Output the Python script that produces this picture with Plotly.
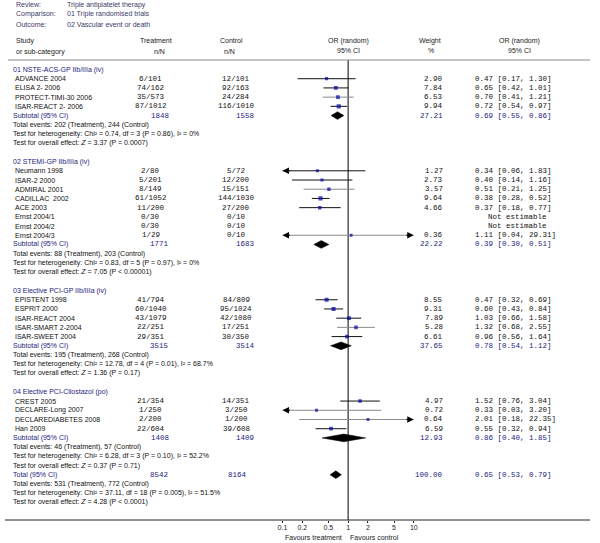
import math
import plotly.graph_objects as go

# ---------------- DATA ----------------
review_labels = ["Review:", "Comparison:", "Outcome:"]
review_values = ["Triple antiplatelet therapy", "01 Triple randomised trials", "02 Vascular event or death"]

group_titles = [
    "01 NSTE-ACS-GP IIb/IIIa (iv)",
    "02 STEMI-GP IIb/IIIa (iv)",
    "03 Elective PCI-GP IIb/IIIa (iv)",
    "04 Elective PCI-Cilostazol (po)",
]

study_names = [
    ["ADVANCE 2004", "ELISA 2- 2006", "PROTECT-TIMI-30 2006", "ISAR-REACT 2- 2006"],
    ["Neumann 1998", "ISAR-2 2000", "ADMIRAL 2001", "CADILLAC  2002", "ACE 2003",
     "Ernst 2004/1", "Ernst 2004/2", "Ernst 2004/3"],
    ["EPISTENT 1998", "ESPRIT 2000", "ISAR-REACT 2004", "ISAR-SMART 2-2004", "ISAR-SWEET 2004"],
    ["CREST 2005", "DECLARE-Long 2007", "DECLAREDIABETES 2008", "Han 2009"],
]
treatment_nN = [
    ["6/101", "74/162", "35/573", "87/1012"],
    ["2/80", "5/201", "8/149", "61/1052", "11/200", "0/30", "0/30", "1/29"],
    ["41/794", "60/1040", "43/1079", "22/251", "29/351"],
    ["21/354", "1/250", "2/200", "22/604"],
]
control_nN = [
    ["12/101", "92/163", "24/284", "116/1010"],
    ["5/72", "12/200", "15/151", "144/1030", "27/200", "0/10", "0/10", "0/10"],
    ["84/809", "95/1024", "42/1080", "17/251", "30/350"],
    ["14/351", "3/250", "1/200", "39/608"],
]
weight_pct = [
    [2.90, 7.84, 6.53, 9.94],
    [1.27, 2.73, 3.57, 9.64, 4.66, None, None, 0.36],
    [8.55, 9.31, 7.89, 5.28, 6.61],
    [4.97, 0.72, 0.64, 6.59],
]
or_est = [
    [0.47, 0.65, 0.70, 0.72],
    [0.34, 0.40, 0.51, 0.38, 0.37, None, None, 1.11],
    [0.47, 0.60, 1.03, 1.32, 0.96],
    [1.52, 0.33, 2.01, 0.55],
]
or_low = [
    [0.17, 0.42, 0.41, 0.54],
    [0.06, 0.14, 0.21, 0.28, 0.18, None, None, 0.04],
    [0.32, 0.43, 0.66, 0.68, 0.56],
    [0.76, 0.03, 0.18, 0.32],
]
or_high = [
    [1.30, 1.01, 1.21, 0.97],
    [1.83, 1.16, 1.25, 0.52, 0.77, None, None, 29.31],
    [0.69, 0.84, 1.58, 2.55, 1.64],
    [3.04, 3.20, 22.35, 0.94],
]

sub_treat_N = [1848, 1771, 3515, 1408]
sub_ctrl_N = [1558, 1683, 3514, 1409]
sub_weight = [27.21, 22.22, 37.65, 12.93]
sub_or = [0.69, 0.39, 0.78, 0.86]
sub_low = [0.55, 0.30, 0.54, 0.40]
sub_high = [0.86, 0.51, 1.12, 1.85]
sub_events_treat = [202, 88, 195, 46]
sub_events_ctrl = [244, 203, 268, 57]
sub_chi2 = ["0.74", "0.83", "12.78", "6.28"]
sub_df = [3, 5, 4, 3]
sub_het_p = ["P = 0.86", "P = 0.97", "P = 0.01", "P = 0.10"]
sub_i2 = ["0%", "0%", "68.7%", "52.2%"]
sub_z = ["3.37", "7.05", "1.36", "0.37"]
sub_z_p = ["P = 0.0007", "P &lt; 0.00001", "P = 0.17", "P = 0.71"]

total_treat_N = 8542
total_ctrl_N = 8164
total_weight = 100.00
total_or = 0.65
total_low = 0.53
total_high = 0.79
total_events_treat = 531
total_events_ctrl = 772
total_chi2 = "37.11"
total_df = 18
total_het_p = "P = 0.005"
total_i2 = "51.5%"
total_z = "4.28"
total_z_p = "P &lt; 0.0001"

tick_values = [0.1, 0.2, 0.5, 1, 2, 5, 10]
tick_labels = ["0.1", "0.2", "0.5", "1", "2", "5", "10"]

# ---------------- STYLE ----------------
W, H = 600, 543
SANS = "Liberation Sans, Arial, sans-serif"
MONO = "Liberation Mono, Courier New, monospace"
FS = 7.0
FM = 7.5
NAVY = "#1c1c80"
HEAD = "#3a3a6a"
TXT = "#111111"
GRAY_CI = {"PROTECT-TIMI-30 2006", "ADMIRAL 2001", "Ernst 2004/3",
           "ISAR-SMART 2-2004", "DECLARE-Long 2007", "DECLAREDIABETES 2008"}

ROW0_PX = 69.5
ROW_H = 9.21
AXIS_PX = 520.0
XMIN, XMAX = 0.1, 10.0
X_LEFT_PX, X_RIGHT_PX = 281.7, 415.0

def px(x):
    return x / W

annotations = []

def ann(xp, y, text, anchor="left", font=SANS, size=FS, color=TXT, yref="y"):
    annotations.append(dict(
        x=px(xp), y=y, xref="paper", yref=yref, text=text, showarrow=False,
        xanchor=anchor, yanchor="middle",
        font=dict(family=font, size=size, color=color)))

def paper_y(pix):
    return 1 - pix / H

# header
for i, (lab, val) in enumerate(zip(review_labels, review_values)):
    ann(9, paper_y(4.7 + 9.7 * i), lab, color=HEAD, yref="paper")
    ann(61, paper_y(4.7 + 9.7 * i), val, color=HEAD, yref="paper")
ann(9, paper_y(40.7), "Study", color="#222", yref="paper")
ann(9, paper_y(51.5), "or sub-category", color="#222", yref="paper")
ann(153, paper_y(40.7), "Treatment", "center", color="#222", yref="paper")
ann(157, paper_y(51.5), "n/N", "center", color="#222", yref="paper")
ann(230, paper_y(40.7), "Control", "center", color="#222", yref="paper")
ann(228, paper_y(51.5), "n/N", "center", color="#222", yref="paper")
ann(348.5, paper_y(40.7), "OR (random)", "center", color="#222", yref="paper")
ann(348.5, paper_y(50.5), "95% CI", "center", color="#222", yref="paper")
ann(431.7, paper_y(40.7), "Weight", "center", color="#222", yref="paper")
ann(432, paper_y(50.5), "%", "center", color="#222", yref="paper")
ann(522, paper_y(40.7), "OR (random)", "center", color="#222", yref="paper")
ann(522, paper_y(50.5), "95% CI", "center", color="#222", yref="paper")

ci_black_x, ci_black_y = [], []
ci_gray_x, ci_gray_y = [], []
sq_x, sq_y, sq_size = [], [], []
diamonds = []
arrows = []

def or_text(e, l, h):
    return f"{e:.2f} [{l:.2f}, {h:.2f}]"

def summary_lines(r, ev_t, ev_c, chi2, df, hp, i2, z, zp):
    ann(6, r, f"Total events: {ev_t} (Treatment), {ev_c} (Control)")
    ann(6, r + 1, f"Test for heterogeneity: Chi² = {chi2}, df = {df} ({hp}), I² = {i2}")
    ann(6, r + 2, f"Test for overall effect: <i>Z</i> = {z} ({zp})")

r = 0
for g, title in enumerate(group_titles):
    ann(6, r, title, color=NAVY)
    for i, name in enumerate(study_names[g]):
        rr = r + 1 + i
        ann(8, rr, name)
        ann(148, rr, treatment_nN[g][i], "center", MONO, FM)
        ann(235, rr, control_nN[g][i], "center", MONO, FM)
        w = weight_pct[g][i]
        if w is None:
            ann(488, rr, "Not estimable", "left", MONO, FM)
            continue
        ann(447, rr, f"{w:.2f}", "right", MONO, FM)
        e, lo, hi = or_est[g][i], or_low[g][i], or_high[g][i]
        ann(475, rr, or_text(e, lo, hi), "left", MONO, FM)
        xs = [max(lo, XMIN), min(hi, XMAX), None]
        ys = [rr, rr, None]
        if name in GRAY_CI:
            ci_gray_x += xs; ci_gray_y += ys
        else:
            ci_black_x += xs; ci_black_y += ys
        if lo < XMIN:
            arrows.append((XMIN, rr, 9))
        if hi > XMAX:
            arrows.append((XMAX, rr, -9))
        sq_x.append(e); sq_y.append(rr); sq_size.append(2.8 + 0.14 * w)
    rs = r + len(study_names[g]) + 1
    ann(6, rs, "Subtotal (95% CI)", color=NAVY)
    ann(157, rs, str(sub_treat_N[g]), "center", MONO, FM, NAVY)
    ann(244, rs, str(sub_ctrl_N[g]), "center", MONO, FM, NAVY)
    ann(447, rs, f"{sub_weight[g]:.2f}", "right", MONO, FM, NAVY)
    ann(475, rs, or_text(sub_or[g], sub_low[g], sub_high[g]), "left", MONO, FM, NAVY)
    diamonds.append((sub_or[g], sub_low[g], sub_high[g], rs))
    summary_lines(rs + 1, sub_events_treat[g], sub_events_ctrl[g], sub_chi2[g], sub_df[g],
                  sub_het_p[g], sub_i2[g], sub_z[g], sub_z_p[g])
    r = rs + 5

rt = r - 1
ann(6, rt, "Total (95% CI)", color=NAVY)
ann(156, rt, str(total_treat_N), "center", MONO, FM, NAVY)
ann(236, rt, str(total_ctrl_N), "center", MONO, FM, NAVY)
ann(447, rt, f"{total_weight:.2f}", "right", MONO, FM, NAVY)
ann(475, rt, or_text(total_or, total_low, total_high), "left", MONO, FM, NAVY)
diamonds.append((total_or, total_low, total_high, rt))
summary_lines(rt + 1, total_events_treat, total_events_ctrl, total_chi2, total_df,
              total_het_p, total_i2, total_z, total_z_p)

ann(313, paper_y(537), "Favours treatment", "center", yref="paper", color="#222")
ann(375, paper_y(537), "Favours control", "center", yref="paper", color="#222")

for (xa, ya, ax) in arrows:
    annotations.append(dict(x=math.log10(xa), y=ya, xref="x", yref="y", text="",
                            showarrow=True, ax=ax, ay=0, arrowhead=2, arrowsize=1.3,
                            arrowwidth=1, arrowcolor="#000", standoff=0))

fig = go.Figure()

y_top_row = (60 - ROW0_PX) / ROW_H
y_axis_row = (AXIS_PX - ROW0_PX) / ROW_H
fig.add_trace(go.Scatter(x=[1, 1], y=[y_top_row, y_axis_row], mode="lines",
                         line=dict(color="#000", width=1), hoverinfo="skip"))
fig.add_trace(go.Scatter(x=ci_black_x, y=ci_black_y, mode="lines",
                         line=dict(color="#111", width=1), hoverinfo="skip"))
fig.add_trace(go.Scatter(x=ci_gray_x, y=ci_gray_y, mode="lines",
                         line=dict(color="#8a8a8a", width=1), hoverinfo="skip"))
fig.add_trace(go.Scatter(x=sq_x, y=sq_y, mode="markers",
                         marker=dict(symbol="square", size=sq_size, color="#0000a8",
                                     line=dict(width=0)), hoverinfo="skip"))
for (e, lo, hi, rr) in diamonds:
    fig.add_trace(go.Scatter(x=[lo, e, hi, e, lo], y=[rr, rr - 0.42, rr, rr + 0.42, rr],
                             mode="lines", fill="toself", fillcolor="#000",
                             line=dict(color="#000", width=0.5), hoverinfo="skip"))

shapes = [
    dict(type="line", xref="paper", yref="paper", x0=px(3), x1=px(594),
         y0=paper_y(60), y1=paper_y(60), line=dict(color="#8c8c8c", width=1)),
    dict(type="line", xref="paper", yref="paper", x0=px(0), x1=px(594),
         y0=paper_y(AXIS_PX), y1=paper_y(AXIS_PX), line=dict(color="#222", width=1)),
]

y_bottom_range = (AXIS_PX - ROW0_PX) / ROW_H
y_top_range = (0 - ROW0_PX) / ROW_H

fig.update_layout(
    width=W, height=H, margin=dict(l=0, r=0, t=0, b=0),
    paper_bgcolor="white", plot_bgcolor="white", showlegend=False,
    xaxis=dict(type="log", range=[math.log10(XMIN), math.log10(XMAX)],
               domain=[X_LEFT_PX / W, X_RIGHT_PX / W],
               tickvals=tick_values, ticktext=tick_labels, ticks="outside", ticklen=2,
               ticklabelstandoff=-1,
               tickcolor="#222", showgrid=False, zeroline=False, showline=False,
               tickfont=dict(family=SANS, size=FS, color="#222"), fixedrange=True),
    yaxis=dict(range=[y_bottom_range, y_top_range], domain=[(H - AXIS_PX) / H, 1],
               visible=False, fixedrange=True),
    annotations=annotations, shapes=shapes,
)

fig.write_html("out.html", config={"displayModeBar": False},
               post_script="document.body.style.margin='0';document.body.style.overflow='hidden';")
